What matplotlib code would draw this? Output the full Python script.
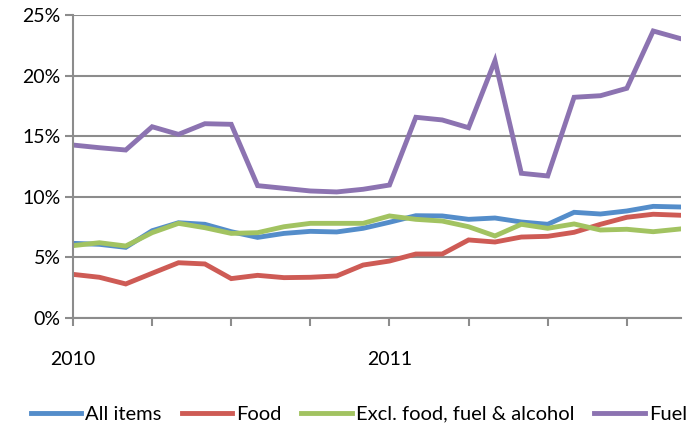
import matplotlib.pyplot as plt
from matplotlib.ticker import FuncFormatter

plt.rcParams['font.family'] = ['Lato', 'DejaVu Sans']

# monthly annual inflation rates, Jan 2010 - Dec 2011
months = list(range(24))
all_items = [6.16, 6.08, 5.83, 7.20, 7.86, 7.73, 7.12, 6.65, 6.98, 7.15, 7.10, 7.40,
             7.90, 8.44, 8.42, 8.14, 8.25, 7.92, 7.73, 8.72, 8.58, 8.83, 9.21, 9.16]
food = [3.60, 3.36, 2.81, 3.69, 4.56, 4.46, 3.25, 3.52, 3.33, 3.36, 3.47, 4.37,
        4.70, 5.28, 5.28, 6.44, 6.27, 6.68, 6.74, 7.07, 7.73, 8.31, 8.56, 8.48]
core = [5.97, 6.21, 5.94, 7.04, 7.81, 7.45, 6.98, 7.04, 7.53, 7.81, 7.81, 7.81,
        8.42, 8.14, 8.00, 7.53, 6.77, 7.73, 7.40, 7.76, 7.26, 7.32, 7.12, 7.34]
fuel = [14.27, 14.05, 13.86, 15.78, 15.15, 16.03, 15.98, 10.92, 10.70, 10.48, 10.40, 10.62,
        10.97, 16.56, 16.34, 15.70, 21.23, 11.94, 11.72, 18.21, 18.34, 18.95, 23.68, 23.07]

series = [
    ('All items', all_items, '#548DCA'),
    ('Food', food, '#CE5B55'),
    ('Excl. food, fuel & alcohol', core, '#A2C361'),
    ('Fuel', fuel, '#8C73B1'),
]

fig = plt.figure(figsize=(6.9, 4.28), dpi=100)
ax = fig.add_axes([0.1058, 0.257, 0.881, 0.708])

for name, vals, col in series:
    ax.plot(months, vals, color=col, lw=3.5, label=name, solid_joinstyle='miter')

ax.set_xlim(0, 23.05)
ax.set_ylim(0, 25)
ax.set_yticks([0, 5, 10, 15, 20, 25])
ax.yaxis.set_major_formatter(FuncFormatter(lambda v, p: '%d%%' % v))
ax.set_xticks(range(0, 24, 3))
ax.set_xticklabels(['2010', '', '', '', '2011', '', '', ''])

ax.grid(axis='y', color='#8C8C8C', lw=1.5)
ax.set_axisbelow(True)
for s in ['top', 'right']:
    ax.spines[s].set_visible(False)
for s in ['left', 'bottom']:
    ax.spines[s].set_color('#8C8C8C')
    ax.spines[s].set_linewidth(1.5)
ax.tick_params(axis='both', color='#8C8C8C', width=1.5, length=6, labelsize=14)
ax.tick_params(axis='x', pad=18)
ax.tick_params(axis='y', pad=3)

fig.legend(loc='lower center', bbox_to_anchor=(0.52, -0.03), ncol=4, frameon=False,
           fontsize=14.5, handlelength=2.5, handletextpad=0.2, columnspacing=1.0)

fig.savefig('out.png', dpi=100)
